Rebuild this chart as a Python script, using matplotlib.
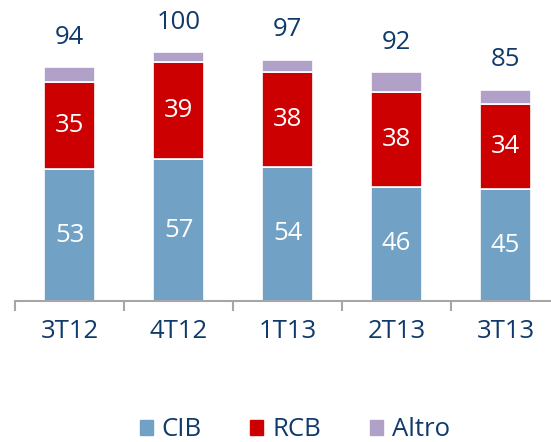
import matplotlib.pyplot as plt
from matplotlib.patches import Patch
from matplotlib.ticker import FixedLocator
import numpy as np

plt.rcParams['font.family'] = ['Open Sans', 'DejaVu Sans']

quarters = ['3T12', '4T12', '1T13', '2T13', '3T13']
cib = [53, 57, 54, 46, 45]
rcb = [35, 39, 38, 38, 34]
altro = [6, 4, 5, 8, 6]
totals = [94, 100, 97, 92, 85]

c_cib = '#71A2C6'
c_rcb = '#CC0000'
c_altro = '#B1A0C7'
navy = '#0F3A6B'

fig = plt.figure(figsize=(5.51, 4.42), dpi=100)
ax = fig.add_axes([15 / 551, 141 / 442, 536 / 551, 301 / 442])

x = np.arange(len(quarters))
w = 0.46
cib = np.array(cib)
rcb = np.array(rcb)
altro = np.array(altro)

ax.bar(x, cib, w, color=c_cib, edgecolor='white', linewidth=1.2)
ax.bar(x, rcb, w, bottom=cib, color=c_rcb, edgecolor='white', linewidth=1.2)
ax.bar(x, altro, w, bottom=cib + rcb, color=c_altro, edgecolor='white', linewidth=1.2)

fs = 18.5
for i in range(len(quarters)):
    ax.text(x[i], cib[i] / 2, str(cib[i]), ha='center', va='center',
            color='white', fontsize=fs)
    ax.text(x[i], cib[i] + rcb[i] / 2, str(rcb[i]), ha='center', va='center',
            color='white', fontsize=fs)
    ax.text(x[i], totals[i] + 12, str(totals[i]), ha='center', va='center',
            color=navy, fontsize=fs)

ax.set_xlim(-0.5, 4.417)
ax.set_ylim(0, 121)
ax.set_yticks([])
for s in ['top', 'right', 'left']:
    ax.spines[s].set_visible(False)
ax.spines['bottom'].set_color('#A6A6A6')
ax.spines['bottom'].set_linewidth(1.5)

ax.set_xticks(x)
ax.set_xticklabels(quarters, fontsize=fs, color=navy)
ax.tick_params(axis='x', which='major', length=0, pad=13)
ax.xaxis.set_minor_locator(FixedLocator(np.arange(-0.5, 5, 1)))
ax.tick_params(axis='x', which='minor', length=7, width=1.5, color='#A6A6A6')

handles = [Patch(color=c_cib, label='CIB'),
           Patch(color=c_rcb, label='RCB'),
           Patch(color=c_altro, label='Altro')]
leg = fig.legend(handles=handles, loc='center', bbox_to_anchor=(0.535, 12 / 442),
                 ncol=3, frameon=False, fontsize=fs, handlelength=0.5,
                 handleheight=0.5, handletextpad=0.35, columnspacing=1.9,
                 borderpad=0.1)
for t in leg.get_texts():
    t.set_color(navy)

fig.savefig('out.png', dpi=100)
